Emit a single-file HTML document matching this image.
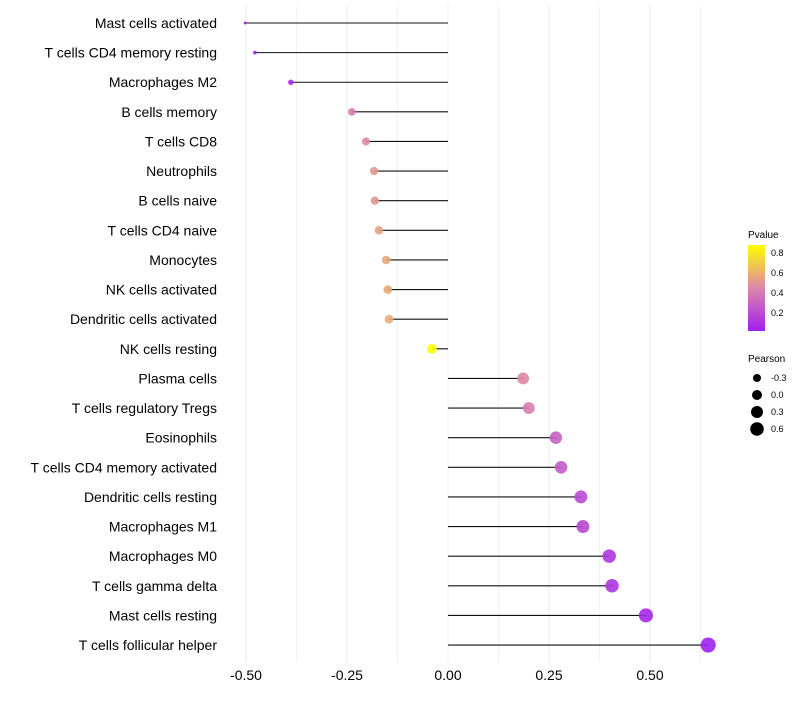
<!DOCTYPE html>
<html><head><meta charset="utf-8"><style>
body{margin:0;background:#fff;font-family:"Liberation Sans",sans-serif;}
</style></head><body>
<svg id="chart" width="800" height="700" xmlns="http://www.w3.org/2000/svg">
<defs><linearGradient id="pg" x1="0" y1="1" x2="0" y2="0">
<stop offset="0" stop-color="#a020f0"/><stop offset="0.5" stop-color="#dc87a8"/><stop offset="1" stop-color="#ffff00"/></linearGradient></defs>
<g id="grid"></g><g id="marks"></g><g id="labels"></g>
<g font-size="9" fill="#000">
<text x="748" y="238" font-size="10">Pvalue</text>
<rect x="748" y="245" width="17" height="86" fill="url(#pg)"/>
<text x="771" y="256">0.8</text><text x="771" y="276">0.6</text><text x="771" y="296">0.4</text><text x="771" y="316">0.2</text>
</g>
<g font-size="9" fill="#000">
<text x="748" y="362" font-size="10">Pearson</text>
<circle cx="757" cy="378" r="4"/><text x="771" y="381">-0.3</text>
<circle cx="757" cy="395" r="5"/><text x="771" y="398">0.0</text>
<circle cx="757" cy="412" r="6"/><text x="771" y="415">0.3</text>
<circle cx="757" cy="429" r="6.8"/><text x="771" y="432">0.6</text>
</g>
</svg>
<script>
const categories=["Mast cells activated","T cells CD4 memory resting","Macrophages M2","B cells memory","T cells CD8","Neutrophils","B cells naive","T cells CD4 naive","Monocytes","NK cells activated","Dendritic cells activated","NK cells resting","Plasma cells","T cells regulatory  Tregs ","Eosinophils","T cells CD4 memory activated","Dendritic cells resting","Macrophages M1","Macrophages M0","T cells gamma delta","Mast cells resting","T cells follicular helper"];
const pearson=[-0.502,-0.478,-0.389,-0.238,-0.203,-0.183,-0.181,-0.171,-0.153,-0.149,-0.146,-0.040,0.186,0.200,0.267,0.280,0.329,0.334,0.399,0.406,0.490,0.644];
const pvalue=[0.002,0.004,0.05,0.40,0.45,0.50,0.50,0.53,0.56,0.57,0.58,0.88,0.45,0.40,0.28,0.25,0.18,0.17,0.10,0.09,0.03,0.002];
const xTicks=[-0.5,-0.25,0,0.25,0.5];
const xTickLabels=["-0.50","-0.25","0.00","0.25","0.50"];
const NS="http://www.w3.org/2000/svg";
const xS=v=>448+v*404;
const yS=i=>23+i*29.62;
const rS=v=>Math.sqrt(Math.max(1,2.25+(v+0.5)*48));
function col(p){const t=Math.min(1,Math.max(0,p/0.88));
 const a=[160,32,240],m=[220,135,168],b=[255,255,0];let c;
 if(t<0.5){const u=t/0.5;c=a.map((x,k)=>x+(m[k]-x)*u);}else{const u=(t-0.5)/0.5;c=m.map((x,k)=>x+(b[k]-x)*u);}
 return `rgb(${c.map(Math.round).join(',')})`;}
function mk(t,at,p){const e=document.createElementNS(NS,t);for(const k in at)e.setAttribute(k,at[k]);p.appendChild(e);return e;}
const grid=document.getElementById('grid'),marks=document.getElementById('marks'),labels=document.getElementById('labels');
for(let v=-0.5;v<=0.625;v+=0.125){
 const l=mk('line',{x1:xS(v),x2:xS(v),y1:5,y2:662,stroke:'#ebebeb','stroke-width':Math.abs((v*4)%1)<1e-6?1:0.6},grid);
 
 
}
xTicks.forEach((v,i)=>{
 const t=mk('text',{x:xS(v),y:680,'text-anchor':'middle','font-size':14,fill:'#000'},labels);t.textContent=xTickLabels[i];
 
 
});
categories.forEach((c,i)=>{
 const y=yS(i);
 const t=mk('text',{x:217,y:y+5,'text-anchor':'end','font-size':14,fill:'#000'},labels);t.textContent=c;
 
 
 const l=mk('line',{x1:xS(0),x2:xS(pearson[i]),y1:y,y2:y,stroke:'#111','stroke-width':1.1},marks);
 
 
 const d=mk('circle',{cx:xS(pearson[i]),cy:y,r:rS(pearson[i]),fill:col(pvalue[i]),'fill-opacity':0.9},marks);
 
 
});
</script>
</body></html>
